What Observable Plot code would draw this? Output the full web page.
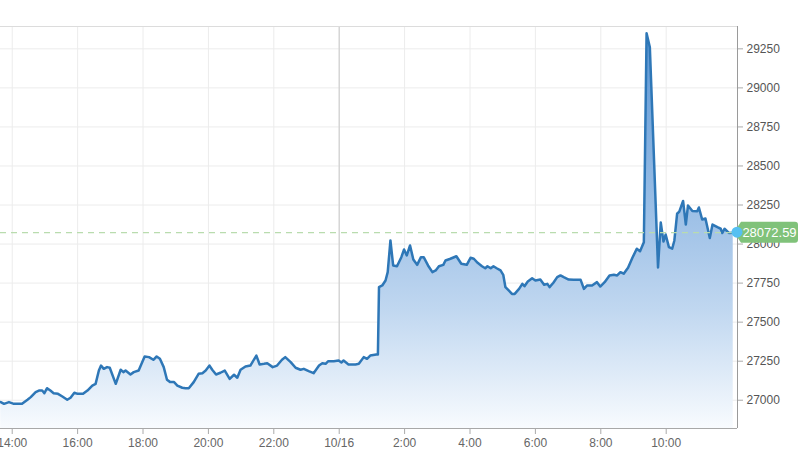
<!DOCTYPE html>
<html>
<head>
<meta charset="utf-8">
<script src="https://cdn.jsdelivr.net/npm/d3@7"></script>
<script src="https://cdn.jsdelivr.net/npm/@observablehq/plot@0.6"></script>
<style>
  html, body { margin: 0; padding: 0; background: #fff; }
  #chart { width: 800px; height: 465px; overflow: hidden; }
</style>
</head>
<body>
<div id="chart"></div>
<script>
// ---- data ----
const times = ["13:39","13:45","13:54","14:03","14:18","14:28","14:34","14:43","14:49","14:55",
"14:59","15:04","15:10","15:16","15:24","15:32","15:41","15:47","15:54","16:00",
"16:10","16:18","16:27","16:33","16:39","16:43","16:48","16:54","16:59","17:10",
"17:19","17:24","17:28","17:37","17:43","17:52","18:03","18:11","18:19","18:25",
"18:31","18:38","18:44","18:50","18:57","19:03","19:12","19:18","19:24","19:33",
"19:42","19:49","19:55","20:02","20:07","20:14","20:22","20:30","20:39","20:47",
"20:53","20:59","21:08","21:17","21:28","21:34","21:42","21:48","21:58","22:06",
"22:15","22:21","22:31","22:40","22:49","22:55","23:04","23:13","23:23","23:29",
"23:35","23:40","23:50","23:59","00:04","00:08","00:17","00:30","00:36","00:45",
"00:51","00:57","01:08","01:11","01:13","01:19","01:25","01:29","01:34","01:39",
"01:46","01:54","01:59","02:04","02:10","02:16","02:23","02:30","02:35","02:43",
"02:51","02:57","03:03","03:11","03:15","03:24","03:35","03:44","03:54","04:01",
"04:07","04:14","04:22","04:28","04:32","04:38","04:43","04:49","04:56","05:01",
"05:05","05:11","05:17","05:22","05:30","05:36","05:40","05:46","05:54","06:00",
"06:09","06:16","06:22","06:26","06:33","06:40","06:46","06:52","07:01","07:10",
"07:23","07:29","07:35","07:44","07:53","07:59","08:07","08:16","08:24","08:30",
"08:36","08:42","08:50","08:58","09:06","09:12","09:19","09:24","09:30","09:45",
"09:50","09:55","09:59","10:05","10:11","10:15","10:20","10:24","10:31","10:36",
"10:40","10:48","10:57","11:00","11:06","11:12","11:20","11:25","11:34","11:40",
"11:43","11:47","11:55","12:03"];

const values = [26988,26977,26988,26977,26977,27003,27020,27052,27062,27062,
27045,27077,27062,27045,27041,27024,27003,27016,27048,27041,
27041,27062,27094,27105,27190,27222,27201,27212,27208,27105,
27195,27180,27190,27165,27180,27190,27280,27276,27259,27280,
27265,27212,27131,27116,27116,27094,27080,27077,27077,27116,
27169,27173,27190,27222,27195,27165,27176,27190,27137,27163,
27144,27195,27216,27222,27286,27229,27233,27237,27212,27222,
27259,27276,27244,27208,27195,27201,27186,27173,27222,27237,
27233,27250,27250,27254,27242,27254,27229,27229,27233,27276,
27265,27286,27293,27293,27724,27735,27767,27820,28023,27863,
27858,27916,27965,27927,27991,27901,27867,27916,27916,27863,
27820,27831,27858,27867,27895,27906,27922,27874,27867,27912,
27906,27880,27858,27845,27858,27845,27858,27845,27831,27803,
27724,27703,27681,27681,27713,27745,27730,27760,27781,27767,
27773,27739,27745,27724,27752,27788,27799,27788,27773,27771,
27771,27713,27735,27735,27756,27728,27756,27799,27803,27799,
27820,27810,27848,27912,27970,27954,28012,29350,29260,27850,
28138,28016,28061,27980,27970,28023,28194,28208,28276,28125,
28247,28212,28210,28234,28157,28164,28039,28125,28108,28098,
28071,28098,28071,28072.59];

const lastValue = 28072.59;
const lastLabel = "28072.59";

const yTicks = [27000,27250,27500,27750,28000,28250,28500,28750,29000,29250];
const xTickTimes = ["14:00","16:00","18:00","20:00","22:00","00:00","02:00","04:00","06:00","08:00","10:00"];
const xTickLabels = ["14:00","16:00","18:00","20:00","22:00","10/16","2:00","4:00","6:00","8:00","10:00"];

const xDomainTimes = ["13:38:30", "12:10:50"];
const yDomain = [26819, 29393];

// times before 13:00 belong to 10/16, the others to 10/15
function toDate(s) {
  const h = +s.slice(0, 2);
  const day = h < 13 ? "16" : "15";
  return new Date(`2020-10-${day}T${s.length === 5 ? s + ":00" : s}Z`);
}

const data = times.map((t, i) => ({t: toDate(t), v: values[i]}));
const xTicks = xTickTimes.map(toDate);
const tickLabelMap = new Map(xTicks.map((d, i) => [+d, xTickLabels[i]]));
const xDomain = xDomainTimes.map(toDate);
const midnight = toDate("00:00");

const plot = Plot.plot({
  width: 800,
  height: 465,
  marginLeft: 0,
  marginRight: 63,
  marginTop: 26,
  marginBottom: 37,
  style: {fontFamily: "'Liberation Sans', Arial, sans-serif", fontSize: "12px", color: "#666", background: "#fff"},
  x: {type: "utc", domain: xDomain},
  y: {domain: yDomain},
  marks: [
    Plot.gridY(yTicks, {stroke: "#ececec", strokeOpacity: 1}),
    Plot.gridX(xTicks, {stroke: "#ececec", strokeOpacity: 1}),
    Plot.ruleX([midnight], {stroke: "#cfcfcf", strokeWidth: 1.2}),
    Plot.ruleY([yDomain[1]], {stroke: "#dcdcdc"}),
    Plot.areaY(data, {x: "t", y1: yDomain[0], y2: "v", fill: "url(#areaGrad)", curve: "linear"}),
    Plot.lineY(data, {x: "t", y: "v", stroke: "#2e77b7", strokeWidth: 2.5, strokeLinejoin: "round"}),
    Plot.ruleY([lastValue], {stroke: "#b9dcae", strokeWidth: 1.3, strokeDasharray: "6,5"}),
    Plot.ruleX([xDomain[1]], {stroke: "#9a9a9a"}),
    Plot.ruleY([yDomain[0]], {stroke: "#a8a8a8"}),
    Plot.axisY(yTicks, {anchor: "right", tickSize: 5, tickPadding: 4, tickFormat: d3.format("d"), label: null, stroke: "#aaa", fill: "#555"}),
    Plot.axisX(xTicks, {anchor: "bottom", tickSize: 6, tickPadding: 4, tickFormat: d => tickLabelMap.get(+d), label: null, stroke: "#aaa", fill: "#666"})
  ]
});

// gradient definition for the area fill
const ns = "http://www.w3.org/2000/svg";
const defs = document.createElementNS(ns, "defs");
const grad = document.createElementNS(ns, "linearGradient");
grad.setAttribute("id", "areaGrad");
grad.setAttribute("x1", "0"); grad.setAttribute("y1", "0");
grad.setAttribute("x2", "0"); grad.setAttribute("y2", "1");
[[0, "#5b96d4"], [0.5, "#a3c4e8"], [0.7, "#c0d7f0"], [1, "#f8fbfe"]].forEach(([o, c]) => {
  const s = document.createElementNS(ns, "stop");
  s.setAttribute("offset", o);
  s.setAttribute("stop-color", c);
  grad.appendChild(s);
});
defs.appendChild(grad);
plot.insertBefore(defs, plot.firstChild);

// current-value callout at the right axis
const yPix = plot.scale("y").apply(lastValue);
const xPix = plot.scale("x").apply(xDomain[1]);
const svg = d3.select(plot);
const g = svg.append("g");
const bx0 = xPix + 4, bx1 = xPix + 61, h = 10.5, r = 3;
g.append("path")
  .attr("d", `M${xPix - 3},${yPix} L${bx0},${yPix - h} L${bx1 - r},${yPix - h} Q${bx1},${yPix - h} ${bx1},${yPix - h + r} L${bx1},${yPix + h - r} Q${bx1},${yPix + h} ${bx1 - r},${yPix + h} L${bx0},${yPix + h} Z`)
  .attr("fill", "#80c27a");
g.append("circle").attr("cx", xPix).attr("cy", yPix).attr("r", 5.5).attr("fill", "#55c0f2");
g.append("text")
  .attr("x", bx0 + 28.5).attr("y", yPix).attr("dy", "0.36em")
  .attr("text-anchor", "middle")
  .attr("fill", "#fff")
  .attr("font-size", "13px")
  .attr("font-family", "'Liberation Sans', Arial, sans-serif")
  .text(lastLabel);

document.getElementById("chart").appendChild(plot);
</script>
</body>
</html>
